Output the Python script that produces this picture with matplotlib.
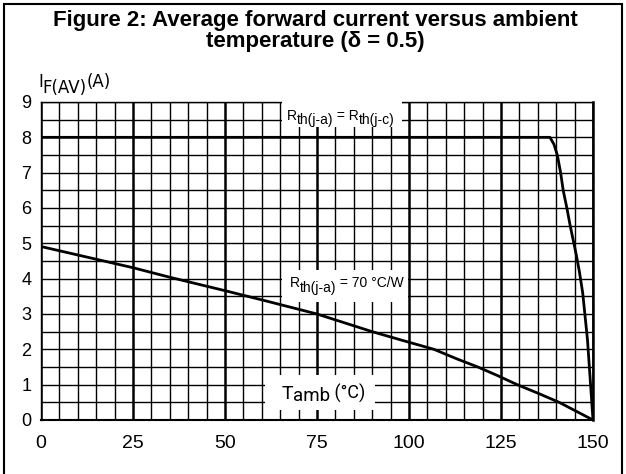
import numpy as np
import matplotlib
matplotlib.use("Agg")
import matplotlib.pyplot as plt
from matplotlib.patches import Rectangle

# Data: T_amb (deg C) vs I_F(AV) (A)
t_case = [0, 138.3, 139.4, 140.3, 141.2, 141.9, 142.9, 143.8, 144.6, 145.5, 146.3, 147.2, 148.5, 150]
i_case = [8.0, 8.0, 7.8, 7.5, 7.0, 6.5, 6.0, 5.5, 5.1, 4.65, 4.2, 3.6, 2.27, 0.0]

t_70 = [0, 10, 25, 35, 50, 60, 75, 90, 98, 106.8, 113, 118.7, 124, 129.4, 135, 140.8, 150]
i_70 = [4.91, 4.67, 4.31, 4.04, 3.66, 3.40, 3.00, 2.50, 2.26, 2.00, 1.73, 1.50, 1.26, 1.00, 0.76, 0.50, 0.0]

x_ticks = [0, 25, 50, 75, 100, 125, 150]
y_ticks = [0, 1, 2, 3, 4, 5, 6, 7, 8, 9]

plt.rcParams['font.family'] = ['Liberation Sans', 'DejaVu Sans']
NARROW = ['Liberation Sans Narrow', 'Roboto', 'DejaVu Sans']


def rich_text(ax, x, y, parts, transform=None, family=None, zorder=5):
    """Chain text pieces; each part = (string, drop in points, fontsize)."""
    s, drop, size = parts[0]
    prev = ax.text(x, y, s, fontsize=size, va='baseline', ha='left',
                   transform=transform if transform is not None else ax.transData,
                   family=family, zorder=zorder)
    level = drop
    for s, drop, size in parts[1:]:
        prev = ax.annotate(s, xy=(1, 0), xycoords=prev,
                           xytext=(0, -(drop - level)), textcoords='offset points',
                           va='bottom', ha='left', fontsize=size,
                           family=family, zorder=zorder)
        level = drop
    return prev


fig = plt.figure(figsize=(6.26, 4.74), dpi=100)
ax = fig.add_axes([41 / 626, 1 - 420 / 474, 552 / 626, 318 / 474])

ax.set_xlim(0, 150)
ax.set_ylim(0, 9)
ax.set_xticks(x_ticks)
ax.set_xticks(np.arange(0, 151, 5), minor=True)
ax.set_yticks(y_ticks)
ax.set_yticks(np.arange(0, 9.01, 0.5), minor=True)
ax.tick_params(which='both', length=0)
ax.tick_params(axis='x', labelsize=14, pad=11)
ax.tick_params(axis='y', labelsize=13, pad=7)

ax.set_axisbelow(True)
ax.grid(which='major', axis='x', color='black', lw=1.8)
ax.grid(which='minor', axis='x', color='black', lw=1.0)
ax.grid(which='both', axis='y', color='black', lw=1.0)
for side, lw in [('left', 1.0), ('top', 1.0), ('right', 1.8), ('bottom', 1.5)]:
    ax.spines[side].set_linewidth(lw)

# white label boxes that interrupt the grid
for (x0, x1, y0, y1) in [(65.5, 98.0, 8.3, 9.1), (65.4, 99.6, 3.35, 4.25),
                         (60.9, 90.8, 0.28, 1.27)]:
    ax.add_patch(Rectangle((x0, y0), x1 - x0, y1 - y0, facecolor='white',
                           edgecolor='none', zorder=2.6, clip_on=False))

ax.plot(t_case, i_case, color='black', lw=2.0, zorder=3)
ax.plot(t_70, i_70, color='black', lw=2.0, zorder=3, solid_joinstyle='round')

rich_text(ax, 66.7, 8.5, [('R', 0, 10), ('th(j-a)', 3.2, 10), (' = R', 0, 10),
                          ('th(j-c)', 3.2, 10)])
rich_text(ax, 67.6, 3.76, [('R', 0, 10), ('th(j-a)', 3.8, 10), (' = 70 °C/W', 0, 10)])
rich_text(ax, 65.4, 0.595, [('T', 0, 14), ('amb', 1.2, 13.5), (' (°C)', 0, 13)],
          family=NARROW)

rich_text(ax, 38 / 626, 1 - 87 / 474, [('I', 0, 12), ('F(AV)', 4.5, 12), ('(A)', 0, 12)],
          transform=fig.transFigure, family=['DejaVu Sans'])

fig.text(315 / 626, 1 - 26 / 474, 'Figure 2: Average forward current versus ambient',
         ha='center', va='baseline', fontsize=16, fontweight='bold')
fig.text(315 / 626, 1 - 47 / 474, 'temperature (δ = 0.5)',
         ha='center', va='baseline', fontsize=16, fontweight='bold')

fig.add_artist(Rectangle((4 / 626, -0.05), 618 / 626, 1.05 - 4 / 474,
                         transform=fig.transFigure, fill=False,
                         edgecolor='black', lw=1.5))

fig.savefig('out.png', dpi=100)
